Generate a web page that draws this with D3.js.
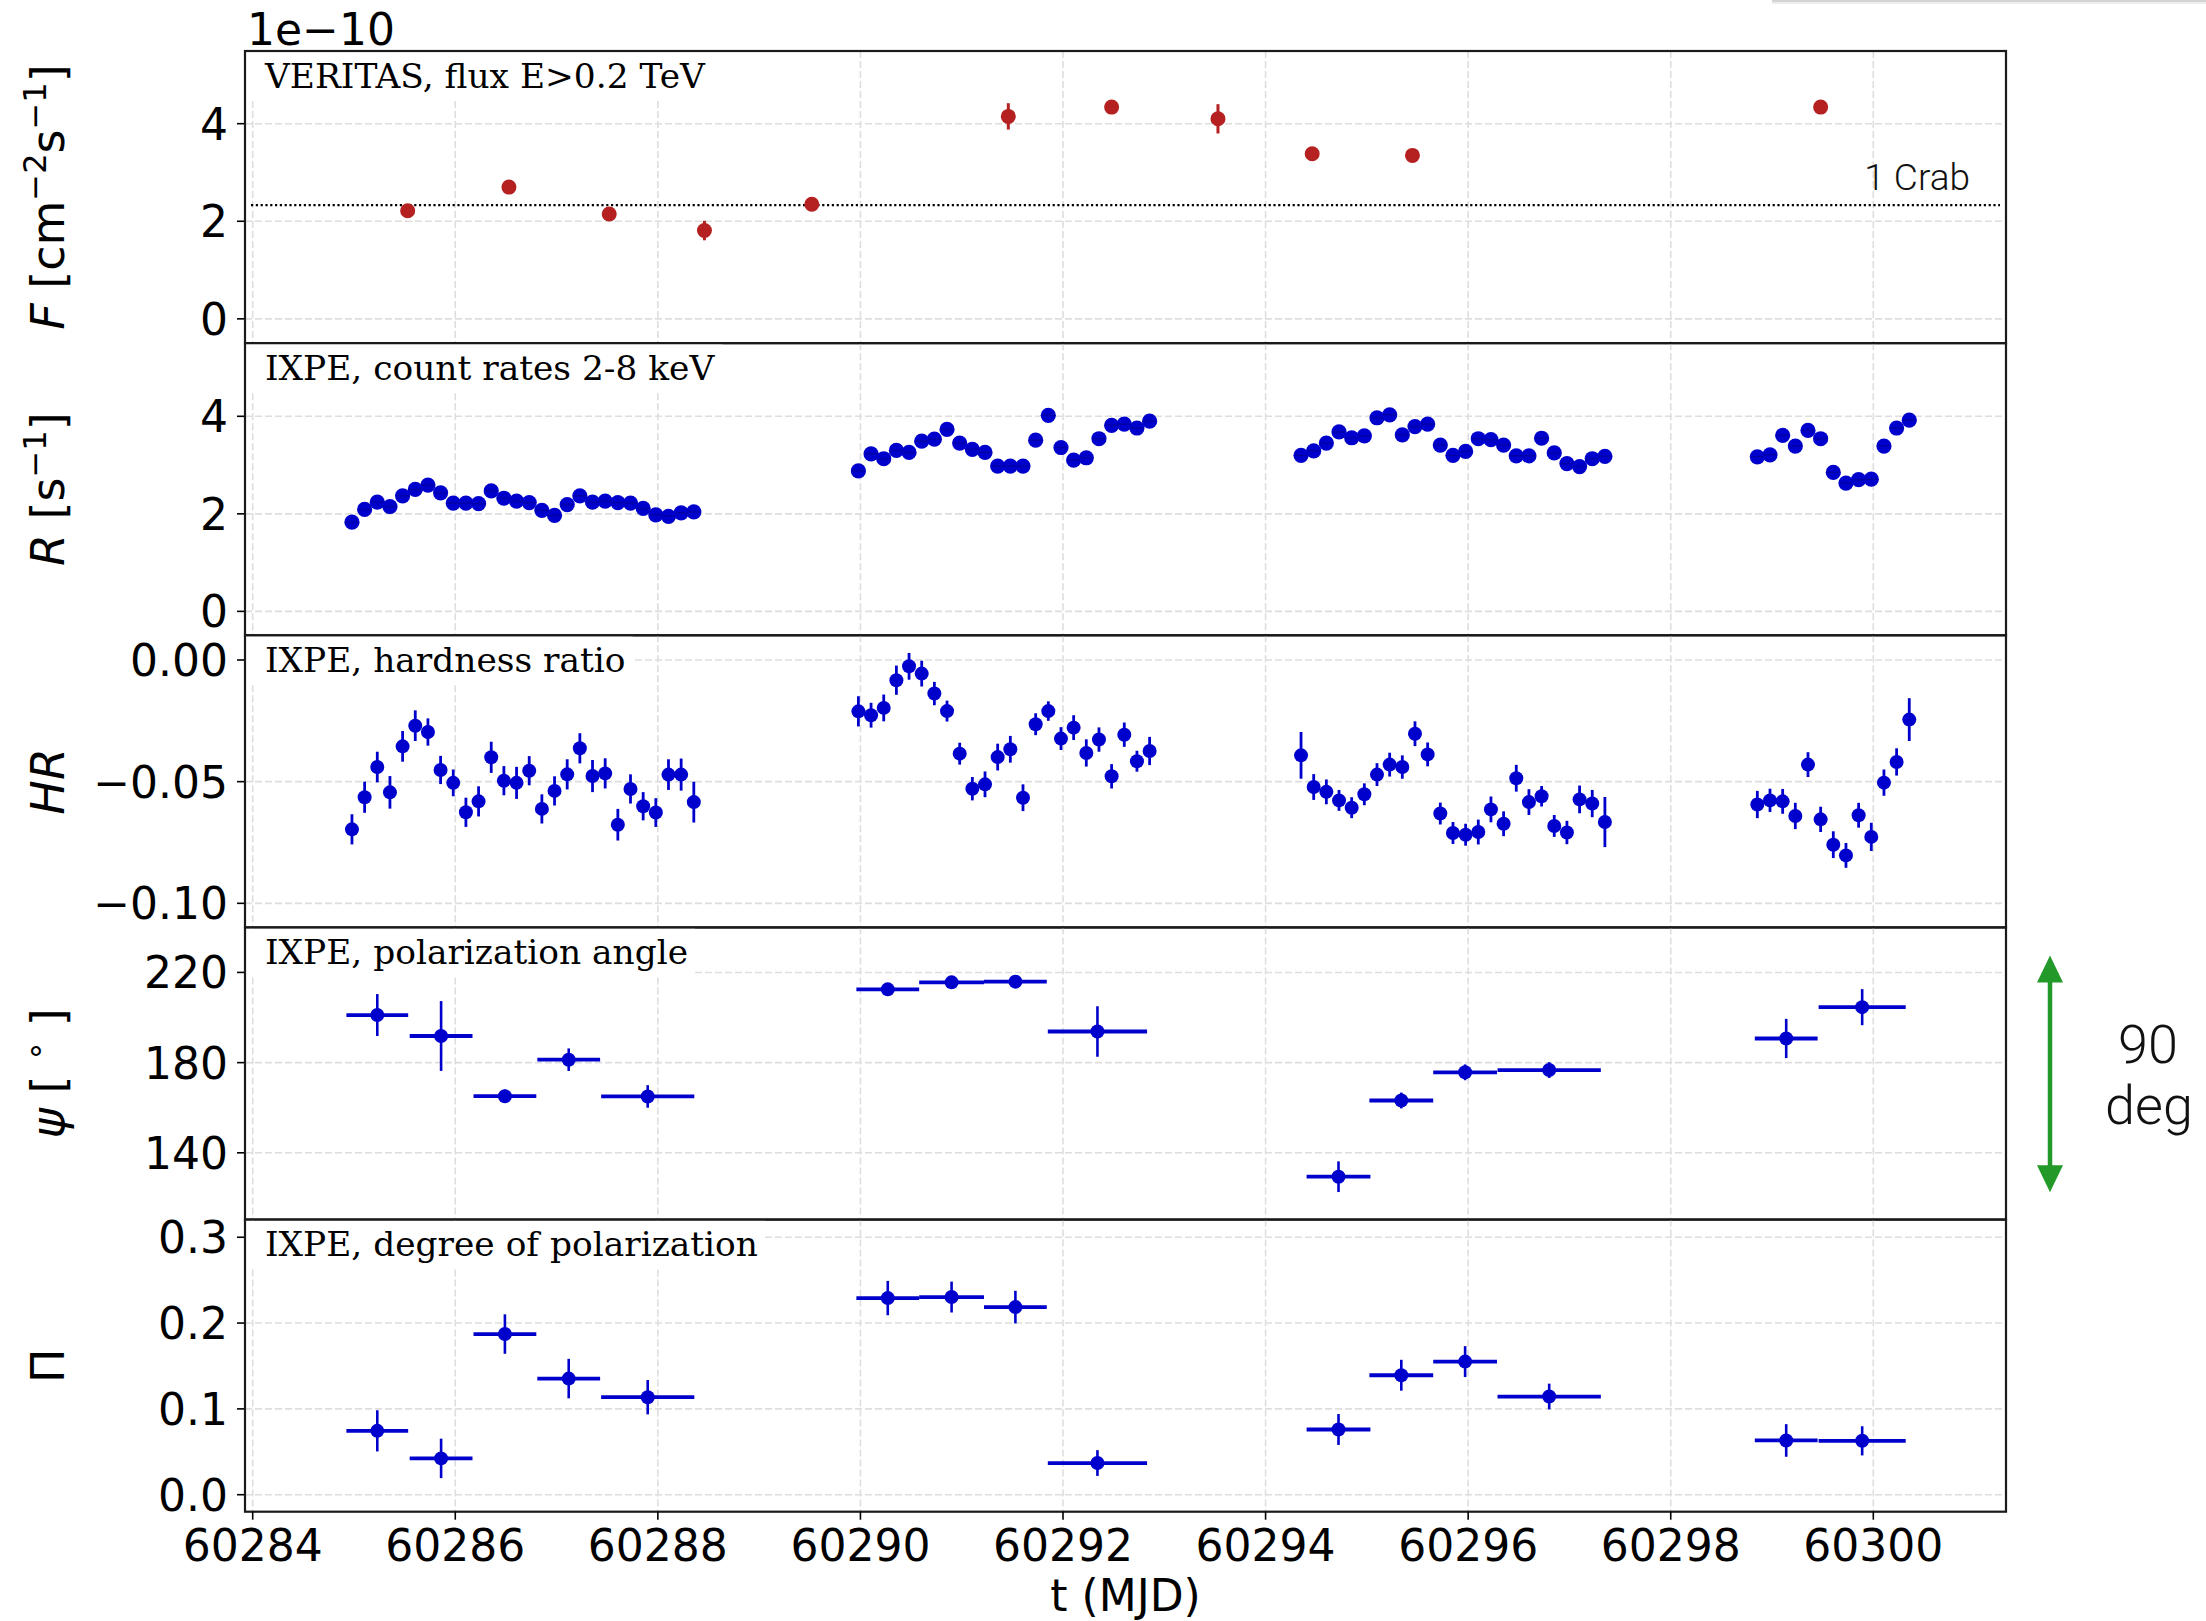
<!DOCTYPE html>
<html>
<head>
<meta charset="utf-8">
<script src="https://cdn.jsdelivr.net/npm/d3@7"></script>
<style>
  body { margin: 0; background: #fff; }
  svg { display: block; }
</style>
</head>
<body>
<svg id="chart" width="2206" height="1621"></svg>
<script>
// ---------------- data ----------------
// VERITAS nightly integral flux above 0.2 TeV, in units of 1e-10 cm^-2 s^-1
const vtsTime = [60285.53, 60286.53, 60287.52, 60288.46, 60289.52, 60291.46, 60292.48, 60293.53, 60294.46, 60295.45, 60299.48];
const vtsFlux = [2.215, 2.70, 2.15, 1.81, 2.35, 4.15, 4.34, 4.10, 3.385, 3.35, 4.34];
const vtsFluxErr = [0.10, 0.12, 0.10, 0.20, 0.10, 0.27, 0.10, 0.30, 0.10, 0.10, 0.10];
const crabFlux = 2.33;

// IXPE light curve in 3-hour bins (MJD bin centres)
const ixpeTime = [
  60284.98, 60285.105, 60285.23, 60285.355, 60285.48, 60285.605, 60285.73, 60285.855, 60285.98, 60286.105,
  60286.23, 60286.355, 60286.48, 60286.605, 60286.73, 60286.855, 60286.98, 60287.105, 60287.23, 60287.355,
  60287.48, 60287.605, 60287.73, 60287.855, 60287.98, 60288.105, 60288.23, 60288.355,
  60289.98, 60290.105, 60290.23, 60290.355, 60290.48, 60290.605, 60290.73, 60290.855, 60290.98, 60291.105,
  60291.23, 60291.355, 60291.48, 60291.605, 60291.73, 60291.855, 60291.98, 60292.105, 60292.23, 60292.355,
  60292.48, 60292.605, 60292.73, 60292.855,
  60294.35, 60294.475, 60294.6, 60294.725, 60294.85, 60294.975, 60295.1, 60295.225, 60295.35, 60295.475,
  60295.6, 60295.725, 60295.85, 60295.975, 60296.1, 60296.225, 60296.35, 60296.475, 60296.6, 60296.725,
  60296.85, 60296.975, 60297.1, 60297.225, 60297.35,
  60298.855, 60298.98, 60299.105, 60299.23, 60299.355, 60299.48, 60299.605, 60299.73, 60299.855, 60299.98,
  60300.105, 60300.23, 60300.355
];
const ixpeBinHalf = 0.0625;

// count rate 2-8 keV [s^-1]
const ixpeRate = [
  1.83, 2.09, 2.24, 2.15, 2.37, 2.50, 2.59, 2.43, 2.22, 2.22,
  2.21, 2.47, 2.32, 2.26, 2.23, 2.07, 1.97, 2.19, 2.37, 2.24,
  2.26, 2.23, 2.22, 2.11, 1.98, 1.95, 2.02, 2.04,
  2.88, 3.23, 3.13, 3.30, 3.26, 3.49, 3.53, 3.73, 3.45, 3.32,
  3.26, 2.98, 2.98, 2.98, 3.51, 4.02, 3.36, 3.10, 3.15, 3.54,
  3.815, 3.84, 3.76, 3.90,
  3.20, 3.29, 3.45, 3.68, 3.56, 3.60, 3.97, 4.03, 3.62, 3.79,
  3.84, 3.41, 3.20, 3.28, 3.54, 3.52, 3.41, 3.19, 3.19, 3.55,
  3.25, 3.03, 2.97, 3.13, 3.18,
  3.17, 3.21, 3.61, 3.39, 3.71, 3.54, 2.85, 2.63, 2.70, 2.71,
  3.39, 3.76, 3.92
];

// hardness ratio and its 1-sigma error
const ixpeHR = [
  -0.0696, -0.0564, -0.0440, -0.0544, -0.0355, -0.0270, -0.0296, -0.0452, -0.0505, -0.0626,
  -0.0581, -0.0400, -0.0496, -0.0505, -0.0455, -0.0612, -0.0538, -0.0470, -0.0363, -0.0477,
  -0.0466, -0.0677, -0.0530, -0.0601, -0.0627, -0.0471, -0.0471, -0.0584,
  -0.0211, -0.0227, -0.0197, -0.0083, -0.0026, -0.0056, -0.0138, -0.0210, -0.0385, -0.0529,
  -0.0511, -0.0399, -0.0367, -0.0566, -0.0264, -0.0210, -0.0323, -0.0278, -0.0382, -0.0327,
  -0.0478, -0.0307, -0.0416, -0.0374,
  -0.0392, -0.0522, -0.0542, -0.0577, -0.0607, -0.0552, -0.0471, -0.0430, -0.0440, -0.0303,
  -0.0388, -0.0631, -0.0711, -0.0718, -0.0707, -0.0614, -0.0673, -0.0486, -0.0584, -0.0560,
  -0.0682, -0.0709, -0.0573, -0.0590, -0.0666,
  -0.0594, -0.0577, -0.0581, -0.0641, -0.0430, -0.0655, -0.0759, -0.0803, -0.0638, -0.0727,
  -0.0504, -0.0419, -0.0245
];
const ixpeHRErr = [
  0.0062, 0.0064, 0.0063, 0.0067, 0.0063, 0.0063, 0.0056, 0.0058, 0.0055, 0.0060,
  0.0062, 0.0064, 0.0060, 0.0066, 0.0060, 0.0060, 0.0060, 0.0062, 0.0062, 0.0066,
  0.0062, 0.0065, 0.0060, 0.0058, 0.0059, 0.0063, 0.0066, 0.0084,
  0.0062, 0.0051, 0.0055, 0.0060, 0.0055, 0.0053, 0.0048, 0.0043, 0.0045, 0.0048,
  0.0053, 0.0055, 0.0055, 0.0055, 0.0045, 0.0040, 0.0047, 0.0051, 0.0056, 0.0050,
  0.0050, 0.0050, 0.0043, 0.0058,
  0.0096, 0.0053, 0.0051, 0.0043, 0.0043, 0.0045, 0.0047, 0.0049, 0.0048, 0.0051,
  0.0049, 0.0045, 0.0045, 0.0045, 0.0051, 0.0053, 0.0051, 0.0055, 0.0053, 0.0042,
  0.0045, 0.0048, 0.0057, 0.0056, 0.0103,
  0.0056, 0.0048, 0.0051, 0.0054, 0.0051, 0.0052, 0.0055, 0.0051, 0.0051, 0.0058,
  0.0054, 0.0056, 0.0088
];

// polarimetry bins: centre, half-width (days)
const polTime = [60285.23, 60285.86, 60286.49, 60287.12, 60287.90, 60290.27, 60290.90, 60291.53,
                 60292.34, 60294.72, 60295.34, 60295.97, 60296.80, 60299.14, 60299.89];
const polHalfWidth = [0.305, 0.31, 0.31, 0.31, 0.46, 0.31, 0.32, 0.31,
                      0.49, 0.315, 0.315, 0.315, 0.51, 0.31, 0.43];
// polarization angle [deg]
const polAngle = [201.1, 191.8, 165.1, 181.3, 165.0, 212.5, 215.6, 215.9,
                  193.8, 129.4, 163.2, 175.7, 176.7, 190.7, 204.6];
const polAngleErr = [9.3, 15.5, 3.0, 5.0, 5.0, 2.0, 2.0, 2.0,
                     11.2, 6.8, 3.5, 3.5, 3.5, 8.7, 8.0];
// polarization degree
const polDegree = [0.0744, 0.0423, 0.1872, 0.1353, 0.1136, 0.2291, 0.2303, 0.2186,
                   0.0369, 0.0760, 0.1392, 0.1551, 0.1144, 0.0632, 0.0628];
const polDegreeErr = [0.024, 0.023, 0.023, 0.023, 0.020, 0.020, 0.018, 0.019,
                      0.015, 0.018, 0.018, 0.018, 0.015, 0.019, 0.017];

const timeTicks = [60284, 60286, 60288, 60290, 60292, 60294, 60296, 60298, 60300];

// 90-degree reference span shown next to the angle panel
const angleSpan = [122.5, 227.5];

// ---------------- layout ----------------
const W = 2206, H = 1621;
const plotLeft = 245, plotRight = 2006, plotTop = 51, plotBottom = 1511.7;
const nPanels = 5;
const panelH = (plotBottom - plotTop) / nPanels;

const BLUE = "#0000cd";
const RED = "#b52020";
const GREEN = "#23992a";
const GRID = "#dedede";
const tickFont = "'DejaVu Sans', sans-serif";
const serifFont = "'DejaVu Serif', serif";
const lightFont = "Roboto, 'Liberation Sans', sans-serif";

const svg = d3.select("#chart");
svg.append("rect").attr("width", W).attr("height", H).attr("fill", "#fff");

const x = d3.scaleLinear().domain([60283.924, 60301.31]).range([plotLeft, plotRight]);

const minus = s => String(s).replace("-", "\u2212");

const panels = [
  { title: "VERITAS, flux E>0.2 TeV", domain: [-0.498, 5.49], ticks: [0, 2, 4], fmt: d => String(d),
    label: [{ t: "F", it: true }, { t: " [cm" }, { t: "\u22122", sup: true }, { t: "s" }, { t: "\u22121", sup: true }, { t: "]" }] },
  { title: "IXPE, count rates 2-8 keV", domain: [-0.49, 5.5], ticks: [0, 2, 4], fmt: d => String(d),
    label: [{ t: "R", it: true }, { t: " [s" }, { t: "\u22121", sup: true }, { t: "]" }] },
  { title: "IXPE, hardness ratio", domain: [-0.1099, 0.01015], ticks: [-0.10, -0.05, 0.0], fmt: d => minus(d.toFixed(2)),
    label: [{ t: "HR", it: true }] },
  { title: "IXPE, polarization angle", domain: [110.4, 239.96], ticks: [140, 180, 220], fmt: d => String(d),
    label: [{ t: "\u03c8", it: true }, { t: " [ " }, { t: "\u2218", sup: true }, { t: " ]" }] },
  { title: "IXPE, degree of polarization", domain: [-0.0198, 0.3206], ticks: [0.0, 0.1, 0.2, 0.3], fmt: d => d.toFixed(1),
    label: [{ t: "\u03a0" }] }
];

panels.forEach((p, i) => {
  p.top = plotTop + i * panelH;
  p.bottom = p.top + panelH;
  p.y = d3.scaleLinear().domain(p.domain).range([p.bottom, p.top]);
  p.g = svg.append("g").attr("class", "panel");
});

// grid lines
panels.forEach(p => {
  const g = p.g.append("g").attr("class", "grid");
  g.selectAll("line.vx").data(timeTicks).join("line")
    .attr("x1", d => x(d)).attr("x2", d => x(d))
    .attr("y1", p.top).attr("y2", p.bottom)
    .attr("stroke", GRID).attr("stroke-width", 1.6).attr("stroke-dasharray", "7,3");
  g.selectAll("line.hy").data(p.ticks).join("line")
    .attr("x1", plotLeft).attr("x2", plotRight)
    .attr("y1", d => p.y(d)).attr("y2", d => p.y(d))
    .attr("stroke", GRID).attr("stroke-width", 1.6).attr("stroke-dasharray", "7,3");
});

// generic error-bar drawer
function errorBars(g, pts, y, opt) {
  const grp = g.append("g");
  if (opt.xerr) {
    grp.selectAll("line.xe").data(pts).join("line")
      .attr("x1", d => x(d.t - d.xe)).attr("x2", d => x(d.t + d.xe))
      .attr("y1", d => y(d.v)).attr("y2", d => y(d.v))
      .attr("stroke", opt.color).attr("stroke-width", opt.hw || 3);
  }
  if (opt.yerr) {
    grp.selectAll("line.ye").data(pts).join("line")
      .attr("x1", d => x(d.t)).attr("x2", d => x(d.t))
      .attr("y1", d => y(d.v - d.e)).attr("y2", d => y(d.v + d.e))
      .attr("stroke", opt.color).attr("stroke-width", opt.vw || 2.6);
  }
  grp.selectAll("circle").data(pts).join("circle")
    .attr("cx", d => x(d.t)).attr("cy", d => y(d.v)).attr("r", opt.r)
    .attr("fill", opt.color);
  if (opt.stripe) {
    grp.selectAll("line.st").data(pts).join("line")
      .attr("x1", d => x(d.t - ixpeBinHalf)).attr("x2", d => x(d.t + ixpeBinHalf))
      .attr("y1", d => y(d.v)).attr("y2", d => y(d.v))
      .attr("stroke", "#0000a8").attr("stroke-width", 1.6);
  }
}

// panel 1: VERITAS flux + Crab reference
{
  const p = panels[0];
  p.g.append("line")
    .attr("x1", plotLeft + 6).attr("x2", plotRight - 6)
    .attr("y1", p.y(crabFlux)).attr("y2", p.y(crabFlux))
    .attr("stroke", "#000").attr("stroke-width", 2.4).attr("stroke-dasharray", "2.2,2.6");
  p.g.append("text").text("1 Crab")
    .attr("x", 1970).attr("y", p.y(crabFlux) - 15)
    .attr("text-anchor", "end").attr("font-family", lightFont).attr("font-weight", 300)
    .attr("font-size", 37).attr("fill", "#111");
  const pts = vtsTime.map((t, i) => ({ t, v: vtsFlux[i], e: vtsFluxErr[i] }));
  errorBars(p.g, pts, p.y, { color: RED, r: 7.5, yerr: true, vw: 3 });
}
// panel 2: count rate
{
  const p = panels[1];
  const pts = ixpeTime.map((t, i) => ({ t, v: ixpeRate[i], e: 0 }));
  errorBars(p.g, pts, p.y, { color: BLUE, r: 7.6, stripe: true });
}
// panel 3: hardness ratio
{
  const p = panels[2];
  const pts = ixpeTime.map((t, i) => ({ t, v: ixpeHR[i], e: ixpeHRErr[i] }));
  errorBars(p.g, pts, p.y, { color: BLUE, r: 7, yerr: true, vw: 2.8 });
}
// panel 4: polarization angle
{
  const p = panels[3];
  const pts = polTime.map((t, i) => ({ t, v: polAngle[i], e: polAngleErr[i], xe: polHalfWidth[i] }));
  errorBars(p.g, pts, p.y, { color: BLUE, r: 7, yerr: true, xerr: true, hw: 3.8, vw: 2.6 });
}
// panel 5: polarization degree
{
  const p = panels[4];
  const pts = polTime.map((t, i) => ({ t, v: polDegree[i], e: polDegreeErr[i], xe: polHalfWidth[i] }));
  errorBars(p.g, pts, p.y, { color: BLUE, r: 7, yerr: true, xerr: true, hw: 3.8, vw: 2.6 });
}

// panel titles with white boxes, y ticks, labels, frames
panels.forEach(p => {
  const tg = p.g.append("g");
  const box = tg.append("rect").attr("fill", "#fff");
  const txt = tg.append("text").text(p.title)
    .attr("x", 265).attr("y", p.top + 36.5)
    .attr("font-family", serifFont).attr("font-size", 34.4).attr("fill", "#000");
  const bb = txt.node().getBBox();
  box.attr("x", plotLeft + 1).attr("y", p.top + 1)
    .attr("width", bb.x + bb.width + 7 - plotLeft - 1)
    .attr("height", 36.5 + 12 - 1);

  // y ticks
  const ax = p.g.append("g");
  ax.selectAll("line").data(p.ticks).join("line")
    .attr("x1", plotLeft - 8).attr("x2", plotLeft)
    .attr("y1", d => p.y(d)).attr("y2", d => p.y(d))
    .attr("stroke", "#000").attr("stroke-width", 1.6);
  ax.selectAll("text").data(p.ticks).join("text")
    .attr("x", plotLeft - 17).attr("y", d => p.y(d) + 16)
    .attr("text-anchor", "end").attr("font-family", tickFont).attr("font-size", 44)
    .attr("fill", "#000").text(p.fmt);

  // y label (rotated)
  const cy = (p.top + p.bottom) / 2;
  const lab = p.g.append("text")
    .attr("transform", `translate(64,${cy}) rotate(-90)`)
    .attr("text-anchor", "middle").attr("font-family", tickFont).attr("font-size", 46).attr("fill", "#000");
  let shifted = false;
  p.label.forEach(part => {
    const ts = lab.append("tspan").text(part.t);
    if (part.it) ts.attr("font-style", "italic");
    if (part.sup) {
      ts.attr("font-size", 32).attr("dy", shifted ? 0 : -18);
      shifted = true;
    } else if (shifted) {
      ts.attr("dy", 18);
      shifted = false;
    }
  });

  // frame
  p.g.append("rect")
    .attr("x", plotLeft).attr("y", p.top).attr("width", plotRight - plotLeft).attr("height", panelH)
    .attr("fill", "none").attr("stroke", "#1a1a1a").attr("stroke-width", 2.2);
});

// offset label of the flux axis
svg.append("text").text("1e\u221210")
  .attr("x", 247).attr("y", 45)
  .attr("font-family", tickFont).attr("font-size", 44).attr("fill", "#000");

// shared time axis
{
  const g = svg.append("g");
  g.selectAll("line").data(timeTicks).join("line")
    .attr("x1", d => x(d)).attr("x2", d => x(d))
    .attr("y1", plotBottom).attr("y2", plotBottom + 8)
    .attr("stroke", "#000").attr("stroke-width", 1.6);
  g.selectAll("text").data(timeTicks).join("text")
    .attr("x", d => x(d)).attr("y", 1561)
    .attr("text-anchor", "middle").attr("font-family", tickFont).attr("font-size", 44)
    .attr("fill", "#000").text(d => d);
  g.append("text").text("t (MJD)")
    .attr("x", (plotLeft + plotRight) / 2).attr("y", 1611)
    .attr("text-anchor", "middle").attr("font-family", tickFont).attr("font-size", 44).attr("fill", "#000");
}

// 90-degree span arrow beside the angle panel
{
  const p = panels[3];
  const ax = 2050, yTop = p.y(angleSpan[1]), yBot = p.y(angleSpan[0]);
  const headL = 27, headW = 13;
  const g = svg.append("g");
  g.append("line").attr("x1", ax).attr("x2", ax)
    .attr("y1", yTop + headL - 2).attr("y2", yBot - headL + 2)
    .attr("stroke", GREEN).attr("stroke-width", 4.5);
  g.append("path")
    .attr("d", `M${ax},${yTop} L${ax - headW},${yTop + headL} L${ax + headW},${yTop + headL} Z`)
    .attr("fill", GREEN);
  g.append("path")
    .attr("d", `M${ax},${yBot} L${ax - headW},${yBot - headL} L${ax + headW},${yBot - headL} Z`)
    .attr("fill", GREEN);
  const mid = (yTop + yBot) / 2;
  g.append("text").text("90").attr("x", 2148).attr("y", mid - 11)
    .attr("text-anchor", "middle").attr("font-family", lightFont).attr("font-weight", 300)
    .attr("font-size", 54).attr("fill", "#111");
  g.append("text").text("deg").attr("x", 2149).attr("y", mid + 50)
    .attr("text-anchor", "middle").attr("font-family", lightFont).attr("font-weight", 300)
    .attr("font-size", 54).attr("fill", "#111");
}

// thin grey edge at the top right of the canvas
svg.append("rect").attr("x", 1772).attr("y", 0).attr("width", W - 1772).attr("height", 2).attr("fill", "#d4d4d4");
svg.append("rect").attr("x", 1772).attr("y", 2).attr("width", W - 1772).attr("height", 2).attr("fill", "#ededed");
</script>
</body>
</html>
